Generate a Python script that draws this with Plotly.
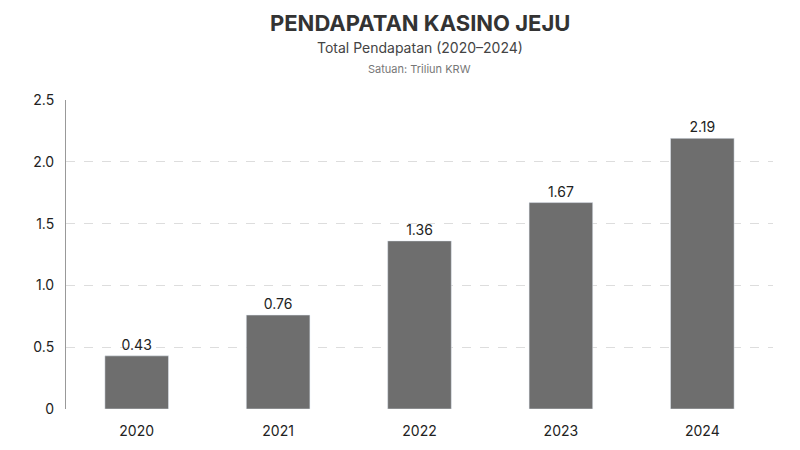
import plotly.graph_objects as go

years = ['2020', '2021', '2022', '2023', '2024']
revenue = [0.43, 0.76, 1.36, 1.67, 2.19]
tick_vals = [0, 0.5, 1.0, 1.5, 2.0, 2.5]
tick_text = ['0', '0.5', '1.0', '1.5', '2.0', '2.5']

fig = go.Figure()
fig.add_trace(go.Bar(
    x=years, y=revenue, width=0.45,
    marker_color='#6e6e6e',
    text=[f'{v:.2f}' for v in revenue], textposition='outside',
    textfont=dict(size=14, color='#222'), cliponaxis=False,
))

fig.add_annotation(text='<b>PENDAPATAN KASINO JEJU</b>', x=0.5, y=1, xref='paper', yref='paper',
                   yshift=92, showarrow=False, font=dict(size=22, color='#333'))
fig.add_annotation(text='Total Pendapatan (2020–2024)', x=0.5, y=1, xref='paper', yref='paper',
                   yshift=63, showarrow=False, font=dict(size=14, color='#444'))
fig.add_annotation(text='Satuan: Triliun KRW', x=0.5, y=1, xref='paper', yref='paper',
                   yshift=40, showarrow=False, font=dict(size=11, color='#777'))

fig.update_layout(
    width=800, height=450,
    margin=dict(l=58, r=35, t=92, b=49),
    paper_bgcolor='white', plot_bgcolor='white',
    font=dict(family='Inter, Roboto, sans-serif', color='#222'),
    showlegend=False, bargap=0.55,
    xaxis=dict(showgrid=False, showline=False, ticks='', tickfont=dict(size=14),
               ticklabelstandoff=12),
    yaxis=dict(range=[0, 2.5], tickvals=tick_vals, ticktext=tick_text,
               showgrid=True, gridcolor='#dddddd', griddash='dash',
               showline=True, linecolor='#999', zeroline=False,
               tickfont=dict(size=14), ticklabelstandoff=8),
)

fig.write_html('out.html')
